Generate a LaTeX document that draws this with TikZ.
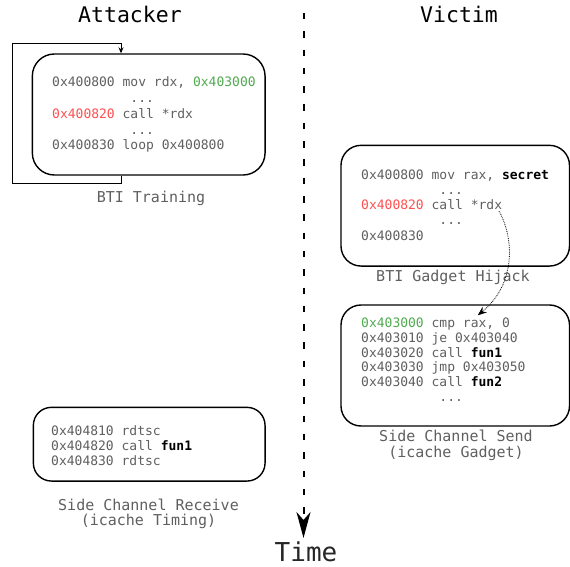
\documentclass[tikz,border=0pt]{standalone}
\usepackage{fontspec}
\setmonofont{DejaVu Sans Mono}
\usetikzlibrary{arrows.meta}
\definecolor{codegray}{RGB}{95,95,95}
\definecolor{codered}{RGB}{255,80,80}
\definecolor{codegreen}{RGB}{80,170,80}
\newcommand{\codefont}[1]{\ttfamily\fontsize{13}{#1}\selectfont}
\newcommand{\dotsind}{\hphantom{0000000000}...}
\begin{document}
\begin{tikzpicture}[x=1pt,y=-1pt,
  box/.style={draw, line width=1.4pt, rounded corners=#1, inner sep=0pt},
  box/.default=20pt,
  code/.style={anchor=base west, inner sep=0pt, text=codegray},
  lbl/.style={anchor=base, inner sep=0pt, text=codegray, font=\ttfamily\fontsize{15}{15}\selectfont},
  title/.style={anchor=base, inner sep=0pt, text=black, font=\ttfamily\fontsize{21.5}{22}\selectfont},
  loopline/.style={line width=0.9pt, -{Stealth[length=6pt,width=5pt]}},
  timeline/.style={line width=2pt, dash pattern=on 6.5pt off 11.8pt, -{Stealth[length=26pt,width=14pt,inset=8pt]}},
  hijack/.style={line width=0.8pt, densely dotted, -{Stealth[length=9pt,width=7pt]}}
]
\useasboundingbox (0,0) rectangle (570,567);

% titles
\node[title] (attacker) at (130,22.7) {Attacker};
\node[title] (victim) at (459,22.7) {Victim};

% time axis
\coordinate (ttop) at (303.5,13);
\coordinate (tbot) at (303.5,538);
\node[anchor=base, inner sep=0pt, text=black!85, font=\ttfamily\fontsize{26}{26}\selectfont] (time) at (306,561) {Time};
\draw[timeline] (ttop) -- (tbot);

% Box 1: BTI training
\node[box=22pt, minimum width=232.7pt, minimum height=121pt] (box1) at (148.7,114.5) {};
\node[code] (code1) at (52,87) {\codefont{15.75}\begin{tabular}[t]{@{}l@{}}
0x400800 mov rdx, \textcolor{codegreen}{0x403000}\\
\dotsind\\
\textcolor{codered}{0x400820} call *rdx\\
\dotsind\\
0x400830 loop 0x400800
\end{tabular}};
\node[lbl] (lbl1) at (151,202) {BTI Training};
\coordinate (loopcorner) at (12,43);
\draw[loopline] ([xshift=-27.7pt]box1.south) -- ++(0,8) -| (loopcorner) -| ([xshift=-27.7pt]box1.north);

% Box 2: BTI gadget hijack
\node[box=20pt, minimum width=228.5pt, minimum height=120.7pt] (box2) at (455.25,205.7) {};
\node[code] (code2) at (361,179) {\codefont{15.25}\begin{tabular}[t]{@{}l@{}}
0x400800 mov rax, \textcolor{black}{\bfseries secret}\\
\dotsind\\
\textcolor{codered}{0x400820} call *rdx\\
\dotsind\\
0x400830
\end{tabular}};
\node[lbl] (lbl2) at (453,281) {BTI Gadget Hijack};

% Box 3: side channel send
\node[box=20pt, minimum width=228.5pt, minimum height=121pt] (box3) at (455.25,365.5) {};
\node[code] (code3) at (361,327.7) {\codefont{14.7}\begin{tabular}[t]{@{}l@{}}
\textcolor{codegreen}{0x403000} cmp rax, 0\\
0x403010 je 0x403040\\
0x403020 call \textcolor{black}{\bfseries fun1}\\
0x403030 jmp 0x403050\\
0x403040 call \textcolor{black}{\bfseries fun2}\\
\dotsind
\end{tabular}};
\node[lbl] (lbl3) at (456,441.7) {\begin{tabular}[t]{@{}c@{}}Side Channel Send\\(icache Gadget)\end{tabular}};

% Box 4: side channel receive
\node[box=18pt, minimum width=231.7pt, minimum height=73.7pt] (box4) at (149.2,444.2) {};
\node[code] (code4) at (51,435) {\codefont{15}\begin{tabular}[t]{@{}l@{}}
0x404810 rdtsc\\
0x404820 call \textcolor{black}{\bfseries fun1}\\
0x404830 rdtsc
\end{tabular}};
\node[lbl] (lbl4) at (148.5,510) {\begin{tabular}[t]{@{}c@{}}Side Channel Receive\\(icache Timing)\end{tabular}};

% hijack arrow
\coordinate (hjs) at (499,211);
\draw[hijack] (hjs) .. controls (515,240) and (515,285) .. ([xshift=22.5pt,yshift=-11pt]box3.north);
\end{tikzpicture}
\end{document}
